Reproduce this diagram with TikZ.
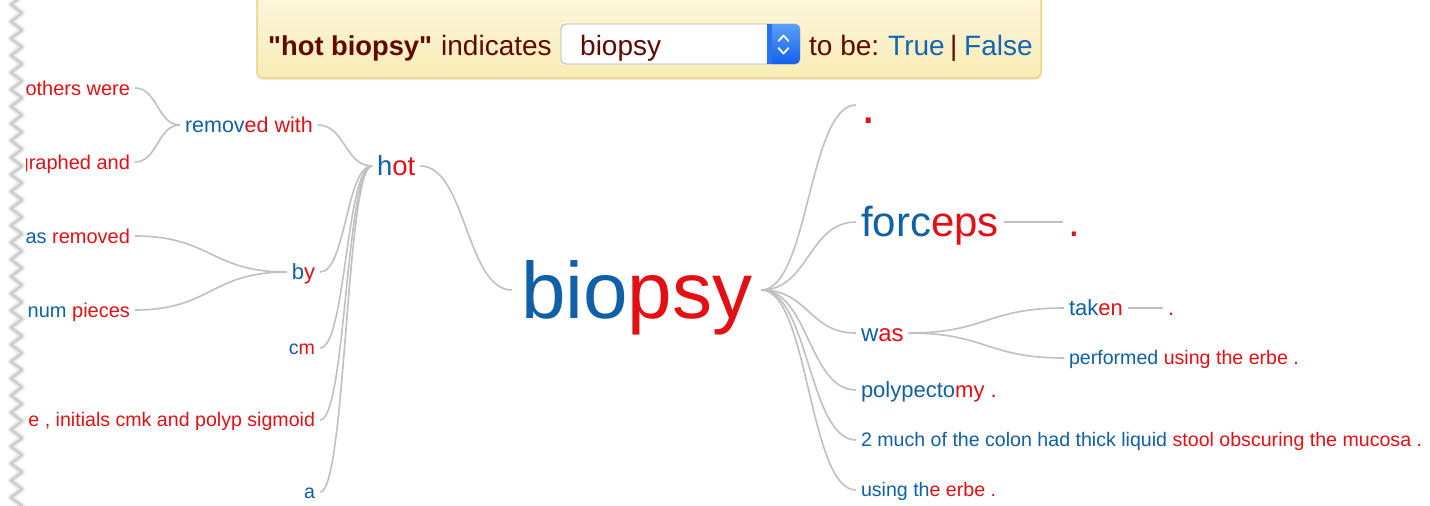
\documentclass[tikz,border=0pt]{standalone}
\usepackage{fontspec}
\setmainfont{Liberation Sans}
\usetikzlibrary{calc}
\definecolor{wb}{RGB}{16,96,168}
\definecolor{wr}{RGB}{226,16,20}
\definecolor{lk}{RGB}{192,192,192}
\definecolor{mar}{RGB}{96,8,0}
\definecolor{lnk}{RGB}{22,100,182}
\definecolor{bantop}{RGB}{252,246,222}
\definecolor{banbot}{RGB}{249,236,182}
\definecolor{banline}{RGB}{238,216,130}
\definecolor{btntop}{RGB}{90,160,250}
\definecolor{btnbot}{RGB}{20,95,235}
\newcommand{\wtB}[1]{\textcolor{wb}{#1}}
\newcommand{\wtR}[1]{\textcolor{wr}{#1}}
\newcommand{\strq}{\XeTeXglyph\XeTeXcharglyph"22\relax}
\newcommand{\wlink}[2]{\draw[link] let \p1=(#1.east), \p2=(#2.west) in (\p1) .. controls ({0.5*\x1+0.5*\x2},\y1) and ({0.5*\x1+0.5*\x2},\y2) .. (\p2);}
\tikzset{
  wd/.style={inner sep=0pt, outer xsep=5pt, font=\fontsize{#1}{#1}\selectfont, text height={0.7*#1pt}, text depth=0pt, text=wr},
  link/.style={draw=lk, line width=1.6pt},
  ban/.style={font=\fontsize{28}{30}\selectfont, text=mar, inner sep=0pt, anchor=base west},
}
\begin{document}
\begin{tikzpicture}[x=1pt,y=-1pt]
\useasboundingbox (0,0) rectangle (1430,506);
\fill[white] (0,0) rectangle (1430,506);

% banner
\fill[black!8, rounded corners=7] (256,-10) rectangle (1042,80);
\shade[top color=bantop, bottom color=banbot, draw=banline, line width=1.5pt, rounded corners=6] (257,-10) rectangle (1041,78);
\draw[fill=white, draw=black!30, line width=0.8pt, rounded corners=5] (561,24) rectangle (800,64);
\shade[top color=btntop, bottom color=btnbot, rounded corners=5] (767,24) rectangle (800,64);
\fill[btnbot!70!btntop] (767,24.4) rectangle (772,63.6);
\draw[white, line width=1.8pt, line cap=round, line join=round] (778.5,41) -- (783.5,35.5) -- (788.5,41);
\draw[white, line width=1.8pt, line cap=round, line join=round] (778.5,48) -- (783.5,53.5) -- (788.5,48);
\node[ban, font=\fontsize{27.3}{30}\selectfont\bfseries] (bq) at (268,55) {\strq hot biopsy\strq};
\node[ban] (bind) at (441,55) {indicates};
\node[ban] (bsel) at (580,55) {biopsy};
\node[ban] (btb) at (809,55) {to be:};
\node[ban, text=lnk] (btrue) at (888,55) {True};
\node[ban] (bbar) at (950,55) {|};
\node[ban, text=lnk] (bfalse) at (964,55) {False};

% left tree
\node[wd=20, anchor=east] (others) at (135,88) {others were};
\node[wd=20, anchor=east] (graphed) at (135,162) {graphed and};
\node[wd=21.5, anchor=west] (remw) at (180,125) {\wtB{remov}ed with};
\node[wd=27.5, anchor=west] (hot) at (372,166) {\wtB{h}ot};
\node[wd=20, anchor=east] (asrem) at (135,236) {\wtB{as} removed};
\node[wd=20, anchor=east] (num) at (135,310) {\wtB{num} pieces};
\node[wd=22, anchor=east] (by) at (320,272) {\wtB{b}y};
\node[wd=19.6, anchor=east] (cm) at (320,348) {\wtB{c}m};
\node[wd=19.6, anchor=east] (sig) at (320,420) {e , initials cmk and polyp sigmoid};
\node[wd=19.6, anchor=east] (a) at (320,492) {\wtB{a}};

% root
\node[wd=80, outer xsep=9pt, anchor=west] (bio) at (512,290) {\wtB{bio}psy};

% right tree
\node[wd=52, anchor=west] (dota) at (856,105) {.};
\node[wd=42, anchor=west] (forc) at (856,222) {\wtB{forc}eps};
\node[wd=42, anchor=west] (dotb) at (1063,222) {.};
\node[wd=24, anchor=west] (was) at (856,333) {\wtB{w}as};
\node[wd=22, anchor=west] (taken) at (1064,308) {\wtB{tak}en};
\node[wd=22, anchor=west] (dotc) at (1163,308) {.};
\node[wd=19.6, anchor=west] (perf) at (1064,358) {\wtB{performed} using the erbe .};
\node[wd=22, anchor=west] (poly) at (856,390) {\wtB{polypecto}my .};
\node[wd=19.6, anchor=west] (much) at (856,440) {\wtB{2 much of the colon had thick liquid} stool obscuring the mucosa .};
\node[wd=19.6, anchor=west] (using) at (856,490) {\wtB{using th}e erbe .};

% connectors
\wlink{others}{remw}
\wlink{graphed}{remw}
\wlink{remw}{hot}
\wlink{asrem}{by}
\wlink{num}{by}
\wlink{by}{hot}
\wlink{cm}{hot}
\wlink{sig}{hot}
\wlink{a}{hot}
\wlink{hot}{bio}
\wlink{bio}{dota}
\wlink{bio}{forc}
\wlink{bio}{was}
\wlink{bio}{poly}
\wlink{bio}{much}
\wlink{bio}{using}
\wlink{forc}{dotb}
\wlink{was}{taken}
\wlink{was}{perf}
\wlink{taken}{dotc}

% torn left edge
\fill[white] (-1,-1) rectangle (26,507);
\draw[black!8, line width=6pt, line join=round] (22,-4) \foreach \i in {0,...,30} { -- (11,{\i*17+4.5}) -- (22,{\i*17+13}) };
\draw[black!20, line width=2.4pt, line join=round] (22,-4) \foreach \i in {0,...,30} { -- (11,{\i*17+4.5}) -- (22,{\i*17+13}) };
\end{tikzpicture}
\end{document}
